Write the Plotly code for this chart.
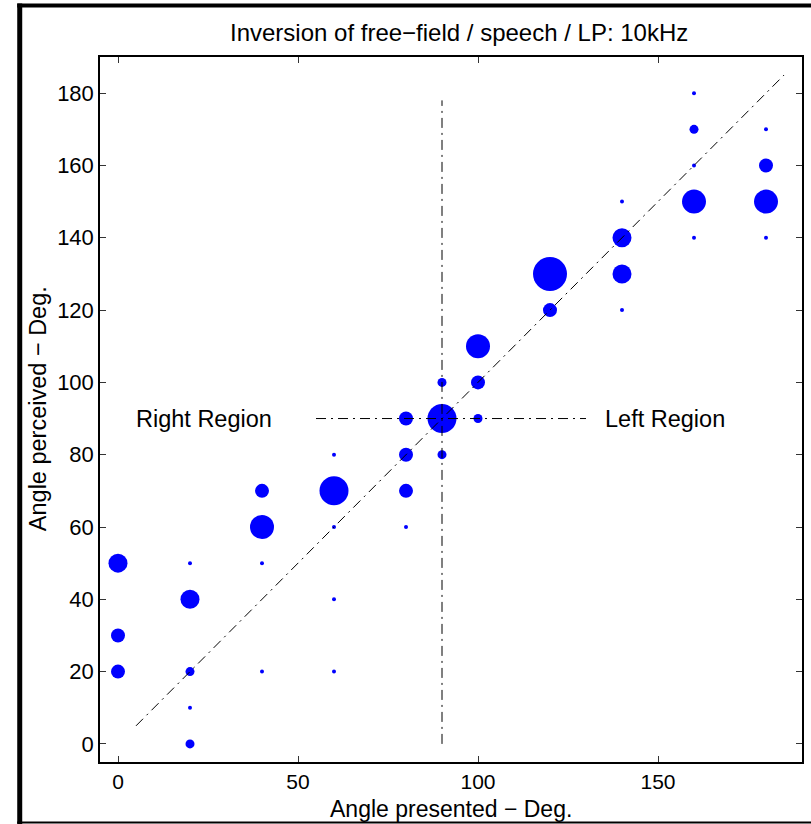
import plotly.graph_objects as go

# ---- data ----
presented = [0, 0, 0,
             20, 20, 20, 20, 20,
             40, 40, 40, 40,
             60, 60, 60, 60, 60,
             80, 80, 80, 80,
             90, 90, 90,
             100, 100, 100,
             120, 120,
             140, 140, 140, 140,
             160, 160, 160, 160, 160,
             180, 180, 180, 180]
perceived = [50, 30, 20,
             50, 40, 20, 10, 0,
             70, 60, 50, 20,
             80, 70, 60, 40, 20,
             90, 80, 70, 60,
             100, 90, 80,
             110, 100, 90,
             130, 120,
             150, 140, 130, 120,
             180, 170, 160, 150, 140,
             170, 160, 150, 140]
counts = [4, 3, 3,
          1, 4, 2, 1, 2,
          3, 5, 1, 1,
          1, 6, 1, 1, 1,
          3, 3, 3, 1,
          2, 6, 2,
          5, 3, 2,
          7, 3,
          1, 4, 4, 1,
          1, 2, 1, 5, 1,
          1, 3, 5, 1]

diag_ends = [5, 185]
vline_x = [90, 90]
vline_y = [0, 178]
hline_x = [55, 130]
hline_y = [90, 90]
region_labels = ["Right Region", "Left Region"]
region_label_x = [24, 152]
region_label_y = [90, 90]

x_ticks = [0, 50, 100, 150]
y_ticks = [0, 20, 40, 60, 80, 100, 120, 140, 160, 180]

title = "Inversion of free\u2212field / speech / LP: 10kHz"
xtitle = "Angle presented \u2212 Deg."
ytitle = "Angle perceived \u2212 Deg."

# ---- figure ----
W, H = 811, 824
L, R, T, B = 100, 7, 57, 62
FONT = "Liberation Sans, Arial, sans-serif"

sizes = [4 + 5 * (c - 1) for c in counts]

fig = go.Figure()
fig.add_trace(go.Scatter(x=presented, y=perceived, mode="markers",
                         marker=dict(size=sizes, color="#0000ff", opacity=1,
                                     line=dict(width=0)),
                         hoverinfo="x+y"))
dash = "10px,5px,2px,5px"
fig.add_trace(go.Scatter(x=diag_ends, y=diag_ends, mode="lines",
                         line=dict(color="black", width=1, dash=dash)))
fig.add_trace(go.Scatter(x=vline_x, y=vline_y, mode="lines",
                         line=dict(color="black", width=1, dash=dash)))
fig.add_trace(go.Scatter(x=hline_x, y=hline_y, mode="lines",
                         line=dict(color="black", width=1, dash=dash)))

for t, x, y in zip(region_labels, region_label_x, region_label_y):
    fig.add_annotation(x=x, y=y, xref="x", yref="y", text=t, showarrow=False,
                       font=dict(family=FONT, size=23.5, color="black"),
                       xanchor="center", yanchor="middle")

pw = W - L - R
ph = H - T - B
def px_x(p):
    return (p - L) / pw
def px_y(p):
    return (H - B - p) / ph

# titles as annotations
fig.add_annotation(x=px_x(460), y=px_y(32), xref="paper", yref="paper", text=title,
                   showarrow=False, font=dict(family=FONT, size=24, color="black"),
                   xanchor="center", yanchor="middle")
fig.add_annotation(x=px_x(452), y=px_y(809), xref="paper", yref="paper", text=xtitle,
                   showarrow=False, font=dict(family=FONT, size=23, color="black"),
                   xanchor="center", yanchor="middle")
fig.add_annotation(x=px_x(38), y=px_y(409), xref="paper", yref="paper", text=ytitle,
                   showarrow=False, textangle=-90,
                   font=dict(family=FONT, size=23.5, color="black"),
                   xanchor="center", yanchor="middle")

# figure border
fig.add_shape(type="line", xref="paper", yref="paper",
              x0=px_x(19.5), x1=px_x(19.5), y0=px_y(3.5), y1=px_y(824),
              line=dict(color="black", width=5))
fig.add_shape(type="line", xref="paper", yref="paper",
              x0=px_x(17), x1=px_x(815), y0=px_y(5.5), y1=px_y(5.5),
              line=dict(color="black", width=4))
fig.add_shape(type="line", xref="paper", yref="paper",
              x0=px_x(17), x1=px_x(815), y0=px_y(822.5), y1=px_y(822.5),
              line=dict(color="black", width=2))

axis_common = dict(showgrid=False, zeroline=False, showline=True, linecolor="black",
                   linewidth=1.5, mirror="ticks", ticks="inside", ticklen=6,
                   tickcolor="#333", tickwidth=1)
fig.update_xaxes(range=[-5, 190], tickvals=x_ticks,
                 tickfont=dict(family=FONT, size=21, color="black"), **axis_common)
fig.update_yaxes(range=[-5, 190], tickvals=y_ticks,
                 tickfont=dict(family=FONT, size=22, color="black"), **axis_common)

fig.update_layout(width=W, height=H, margin=dict(l=L, r=R, t=T, b=B, pad=0),
                  plot_bgcolor="white", paper_bgcolor="white", showlegend=False)

fig.write_html("out.html")
